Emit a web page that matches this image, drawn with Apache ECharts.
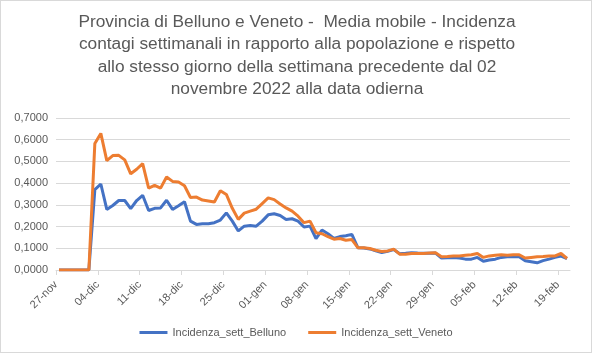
<!DOCTYPE html>
<html>
<head>
<meta charset="utf-8">
<script src="https://cdn.jsdelivr.net/npm/echarts@6/dist/echarts.min.js"></script>
<style>
  html, body { margin: 0; padding: 0; background: #fff; }
  #chart { width: 592px; height: 353px; box-sizing: border-box; border: 1px solid #d9d9d9; }
</style>
</head>
<body>
<div id="chart"></div>
<script>
// one point per day, 27-nov-2022 .. 20-feb-2023
const belluno = [
  0, 0, 0, 0, 0, 0, 0.370, 0.396, 0.279, 0.297,
  0.320, 0.320, 0.283, 0.320, 0.344, 0.274, 0.284, 0.286, 0.321, 0.279,
  0.296, 0.314, 0.225, 0.210, 0.213, 0.213, 0.218, 0.230, 0.263, 0.225,
  0.180, 0.202, 0.205, 0.202, 0.225, 0.254, 0.259, 0.251, 0.233, 0.236,
  0.225, 0.198, 0.202, 0.145, 0.184, 0.167, 0.145, 0.154, 0.158, 0.164,
  0.103, 0.101, 0.097, 0.088, 0.080, 0.086, 0.094, 0.075, 0.077, 0.080,
  0.078, 0.077, 0.077, 0.078, 0.055, 0.056, 0.058, 0.055, 0.050, 0.050,
  0.058, 0.040, 0.046, 0.050, 0.058, 0.061, 0.062, 0.061, 0.043, 0.038,
  0.033, 0.043, 0.050, 0.058, 0.064, 0.053
];
const veneto = [
  0, 0, 0, 0, 0, 0, 0.583, 0.629, 0.504, 0.527,
  0.528, 0.507, 0.443, 0.464, 0.490, 0.377, 0.390, 0.377, 0.428, 0.408,
  0.405, 0.388, 0.334, 0.336, 0.322, 0.318, 0.313, 0.365, 0.348, 0.284,
  0.233, 0.262, 0.271, 0.280, 0.306, 0.332, 0.324, 0.304, 0.286, 0.271,
  0.248, 0.218, 0.225, 0.172, 0.167, 0.154, 0.142, 0.145, 0.137, 0.140,
  0.103, 0.102, 0.099, 0.091, 0.085, 0.088, 0.096, 0.073, 0.073, 0.076,
  0.076, 0.076, 0.078, 0.079, 0.061, 0.062, 0.065, 0.065, 0.068, 0.070,
  0.076, 0.058, 0.065, 0.068, 0.070, 0.068, 0.070, 0.070, 0.055, 0.058,
  0.061, 0.062, 0.065, 0.065, 0.076, 0.053
];
// x tick labels, one every 7 days starting at 27-nov
const tickLabels = ['27-nov', '04-dic', '11-dic', '18-dic', '25-dic', '01-gen', '08-gen',
  '15-gen', '22-gen', '29-gen', '05-feb', '12-feb', '19-feb'];

const titleLines = [
  'Provincia di Belluno e Veneto -  Media mobile - Incidenza',
  'contagi settimanali in rapporto alla popolazione e rispetto',
  'allo stesso giorno della settimana precedente dal 02',
  'novembre 2022 alla data odierna'
];

const textColor = '#595959';
const font = 'Liberation Sans';

// Excel date axis: each point sits in the middle of its day
const toXY = arr => arr.map((v, i) => [i + 0.5, v]);
const tickValues = tickLabels.map((_, i) => i * 7);

const chart = echarts.init(document.getElementById('chart'));
chart.setOption({
  animation: false,
  textStyle: { fontFamily: font },
  graphic: [{
    type: 'text',
    x: 296,
    y: 10,
    style: {
      text: titleLines.join('\n'),
      align: 'center',
      fill: textColor,
      fontFamily: font,
      fontSize: 17.3,
      lineHeight: 22.4
    }
  }],
  grid: { left: 55, right: 21, top: 117, bottom: 82 },
  xAxis: {
    type: 'value',
    min: 0,
    max: veneto.length,
    axisLine: { show: true, lineStyle: { color: '#d9d9d9' } },
    axisTick: { show: true, length: 5, lineStyle: { color: '#d9d9d9' }, customValues: tickValues },
    axisLabel: {
      customValues: tickValues,
      rotate: 45,
      color: textColor,
      fontSize: 11,
      margin: 13,
      formatter: v => tickLabels[Math.round(v / 7)] || ''
    },
    splitLine: { show: false }
  },
  yAxis: {
    type: 'value',
    min: 0,
    max: 0.7,
    interval: 0.1,
    axisLine: { show: false },
    axisTick: { show: false },
    axisLabel: {
      color: textColor,
      fontSize: 11,
      margin: 8,
      formatter: v => v.toFixed(4).replace('.', ',')
    },
    splitLine: { lineStyle: { color: '#d9d9d9' } }
  },
  legend: {
    bottom: 9,
    left: 'center',
    itemWidth: 28,
    itemHeight: 3,
    itemGap: 22,
    icon: 'rect',
    textStyle: { color: textColor, fontSize: 11 },
    data: ['Incidenza_sett_Belluno', 'Incidenza_sett_Veneto']
  },
  series: [
    {
      name: 'Incidenza_sett_Belluno',
      type: 'line',
      data: toXY(belluno),
      symbol: 'none',
      color: '#4472c4',
      lineStyle: { width: 3, color: '#4472c4' }
    },
    {
      name: 'Incidenza_sett_Veneto',
      type: 'line',
      data: toXY(veneto),
      symbol: 'none',
      color: '#ed7d31',
      lineStyle: { width: 3, color: '#ed7d31' }
    }
  ]
});
</script>
</body>
</html>
